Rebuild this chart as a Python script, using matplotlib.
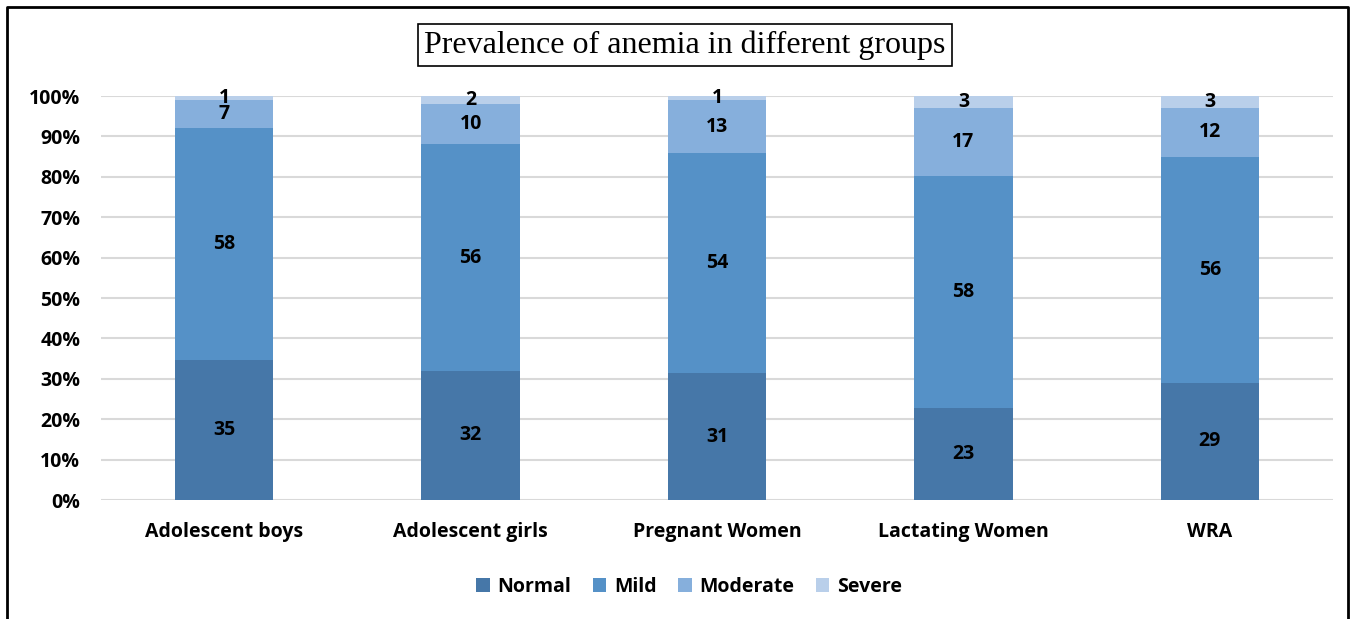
import matplotlib
matplotlib.use('Agg')
import matplotlib.pyplot as plt
import numpy as np

groups = ["Adolescent boys", "Adolescent girls", "Pregnant Women", "Lactating Women", "WRA"]
severity = ["Normal", "Mild", "Moderate", "Severe"]
normal = [35, 32, 31, 23, 29]
mild = [58, 56, 54, 58, 56]
moderate = [7, 10, 13, 17, 12]
severe = [1, 2, 1, 3, 3]

colors = ["#4677A8", "#5591C7", "#86AFDC", "#B9CFEA"]
FS = 14

plt.rcParams['font.family'] = ['Open Sans', 'DejaVu Sans']

fig = plt.figure(figsize=(13.61, 6.19), dpi=100)
ax = fig.add_axes([101 / 1361, 1 - 500 / 619, (1333 - 101) / 1361, 404 / 619])

series = [normal, mild, moderate, severe]
totals = np.sum(series, axis=0)
x = np.arange(len(groups))
bottom = np.zeros(len(groups))
for name, vals, col in zip(severity, series, colors):
    share = np.array(vals) / totals
    ax.bar(x, share, width=0.4, bottom=bottom, color=col, label=name, zorder=2)
    for xi, b, s, v in zip(x, bottom, share, vals):
        ax.text(xi, b + s / 2, str(v), ha="center", va="center",
                fontsize=FS, fontweight="bold", color="black", zorder=3)
    bottom += share

ax.set_xlim(-0.5, len(groups) - 0.5)
ax.set_ylim(0, 1)
ticks = np.arange(0, 1.01, 0.1)
ax.set_yticks(ticks)
ax.set_yticklabels([f"{int(round(t * 100))}%" for t in ticks])
ax.set_xticks(x)
ax.set_xticklabels(groups)
ax.tick_params(axis="both", length=0, labelsize=FS)
ax.tick_params(axis="x", pad=16)
ax.tick_params(axis="y", pad=15)
for lbl in ax.get_xticklabels() + ax.get_yticklabels():
    lbl.set_fontweight("bold")
ax.grid(axis="y", color="#D9D9D9", linewidth=1.5, zorder=0)
ax.set_axisbelow(True)
for sp in ax.spines.values():
    sp.set_visible(False)

fig.text(685 / 1361, 1 - 45 / 619, "Prevalence of anemia in different groups",
         ha="center", va="center", fontsize=23, family="Liberation Serif",
         bbox=dict(boxstyle="square,pad=0.2", facecolor="white", edgecolor="black", linewidth=1.2))

fig.legend(loc="center", bbox_to_anchor=(689 / 1361, 1 - 587 / 619), ncol=4, frameon=False,
           prop={"weight": "bold", "size": FS}, handlelength=0.7, handleheight=0.7,
           handletextpad=0.4, columnspacing=1.1)

# outer chart frame, open at the bottom
fig.add_artist(plt.Line2D([7 / 1361, 7 / 1361, 1348 / 1361, 1348 / 1361],
                          [0, 1 - 7 / 619, 1 - 7 / 619, 0],
                          transform=fig.transFigure, color="black", linewidth=2))

fig.savefig("out.png", dpi=100)
